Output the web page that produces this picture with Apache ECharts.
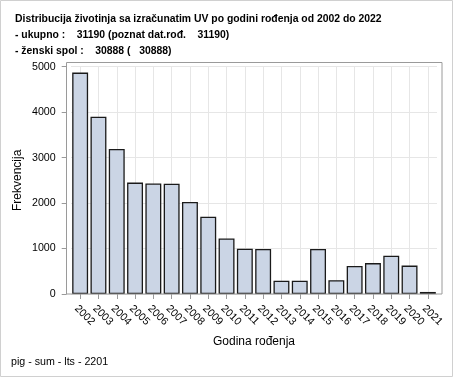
<!DOCTYPE html>
<html><head><meta charset="utf-8">
<script src="https://cdn.jsdelivr.net/npm/echarts@6/dist/echarts.min.js"></script>
<style>html,body{margin:0;padding:0;background:#fff}#c{width:454px;height:378px}</style>
</head><body><div id="c"></div>
<script>
const categories = ['2002','2003','2004','2005','2006','2007','2008','2009','2010','2011','2012','2013','2014','2015','2016','2017','2018','2019','2020','2021'];
const counts = [4870, 3900, 3190, 2450, 2430, 2425, 2025, 1700, 1220, 995, 990, 290, 290, 990, 305, 615, 680, 840, 625, 45];
const titleLines = [
  'Distribucija životinja sa izračunatim UV po godini rođenja od 2002 do 2022',
  '- ukupno :    31190 (poznat dat.rođ.    31190)',
  '- ženski spol :    30888 (   30888)'
];
const footnote = 'pig - sum - lts - 2201';
const yTicks = [0, 1000, 2000, 3000, 4000, 5000];

const font = 'Arial, "Liberation Sans", sans-serif';
const chart = echarts.init(document.getElementById('c'), null, {renderer: 'canvas'});
chart.setOption({
  animation: false,
  backgroundColor: '#fff',
  grid: {left: 71, right: 17, top: 66.7, bottom: 84, containLabel: false},
  title: titleLines.map((t, i) => ({
    text: t, left: 10, top: [9, 25, 41][i],
    textStyle: {fontFamily: font, fontSize: 10.4, fontWeight: 'bold', color: '#000'}
  })),
  graphic: [
    {type: 'rect', shape: {x: 0.5, y: 0.5, width: 452, height: 376}, style: {fill: null, stroke: '#d0d0d0', lineWidth: 1}, silent: true, z: -1},
    {type: 'rect', shape: {x: 66.5, y: 62.5, width: 375.5, height: 231.5}, style: {fill: null, stroke: '#9a9a9a', lineWidth: 1}, silent: true, z: 10},
    {type: 'text', left: 11, top: 357, style: {text: footnote, font: '10.67px ' + font, fill: '#000'}}
  ],
  xAxis: {
    type: 'category', data: categories, boundaryGap: true,
    name: 'Godina rođenja', nameLocation: 'middle', nameGap: 42,
    nameTextStyle: {fontFamily: font, fontSize: 12, color: '#000'},
    axisLine: {show: false},
    axisTick: {show: true, alignWithLabel: true, length: 5, lineStyle: {color: '#9a9a9a'}},
    axisLabel: {rotate: -45, fontFamily: font, fontSize: 10.67, color: '#000', margin: 9, interval: 0,
      verticalAlign: 'top'},
    splitLine: {show: true, alignWithLabel: true, interval: 0, lineStyle: {color: '#e6e6e6'}}
  },
  yAxis: {
    type: 'value', min: 0, max: 5000, interval: 1000, offset: 4.3,
    name: 'Frekvencija', nameLocation: 'middle', nameGap: 43, nameRotate: 90, nameMoveOverlap: false,
    nameTextStyle: {fontFamily: font, fontSize: 12, color: '#000'},
    axisLine: {show: false},
    axisTick: {show: true, length: 5, inside: false, lineStyle: {color: '#9a9a9a'}},
    axisLabel: {fontFamily: font, fontSize: 10.67, color: '#000', margin: 11,
      formatter: v => yTicks.includes(v) ? String(v) : ''},
    splitLine: {show: true, lineStyle: {color: '#e6e6e6'}}
  },
  series: [{
    type: 'bar', data: counts, barCategoryGap: '13%',
    itemStyle: {color: '#cbd5e5', borderColor: '#1a1a1a', borderWidth: 1.3}
  }]
});
</script></body></html>
